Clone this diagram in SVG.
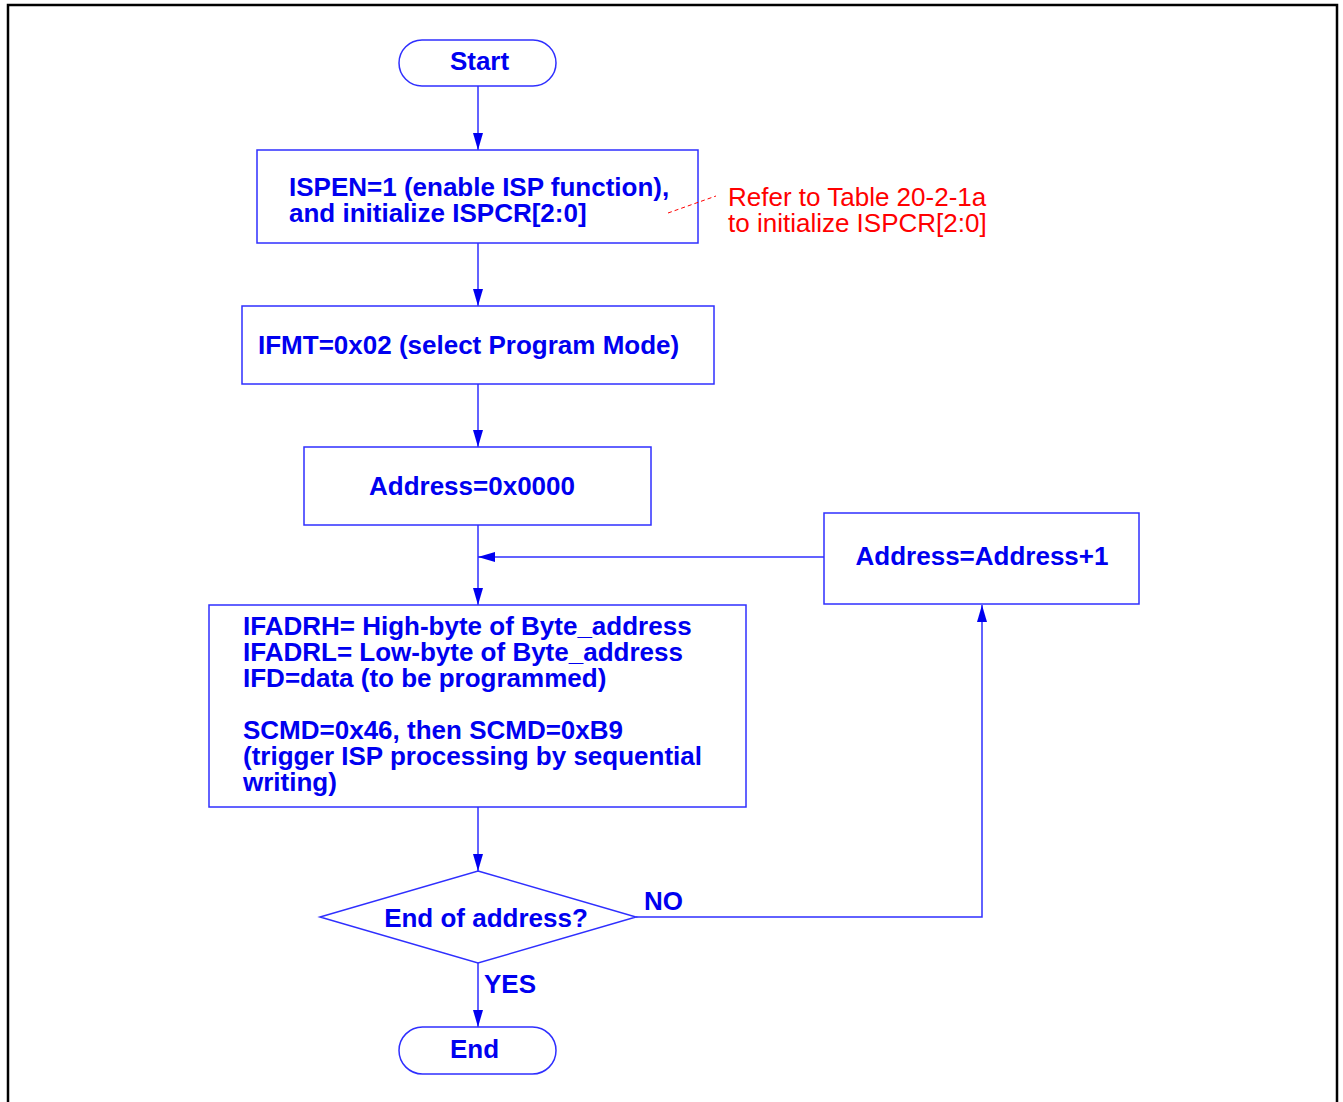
<svg xmlns="http://www.w3.org/2000/svg" width="1343" height="1102" viewBox="0 0 1343 1102">
<defs>
<style>
.shape{fill:#ffffff;stroke:#2f2fff;stroke-width:1.5}
.line{fill:none;stroke:#2f2fff;stroke-width:1.5}
.t{font-family:"Liberation Sans",Arial,sans-serif;font-size:26px;font-weight:bold;fill:#0000f0}
.c{text-anchor:middle}
.note{font-family:"Liberation Sans",Arial,sans-serif;font-size:26px;fill:#ff0000}
</style>
<marker id="arr" markerUnits="userSpaceOnUse" markerWidth="17" markerHeight="10" refX="17" refY="5" orient="auto">
<path d="M0,0 L17,5 L0,10 z" fill="#0000f0"/>
</marker>
</defs>
<rect width="1343" height="1102" fill="#ffffff"/>
<path d="M8,1102 V5 H1337 V1102" fill="none" stroke="#000000" stroke-width="2.5"/>

<g id="connectors">
<path class="line" d="M478,86 V150" marker-end="url(#arr)"/>
<path class="line" d="M478,243 V306" marker-end="url(#arr)"/>
<path class="line" d="M478,384 V447" marker-end="url(#arr)"/>
<path class="line" d="M478,525 V605" marker-end="url(#arr)"/>
<path class="line" d="M824,557 H478" marker-end="url(#arr)"/>
<path class="line" d="M478,807 V871" marker-end="url(#arr)"/>
<path class="line" d="M636,917 H982 V605" marker-end="url(#arr)"/>
<path class="line" d="M478,963 V1027" marker-end="url(#arr)"/>
<text class="t" x="644" y="910">NO</text>
<text class="t" x="484" y="993">YES</text>
</g>

<g id="start">
<rect class="shape" x="399" y="40" width="157" height="46" rx="23" ry="23"/>
<text class="t c" x="479.5" y="70">Start</text>
</g>

<g id="init">
<rect class="shape" x="257" y="150" width="441" height="93"/>
<text class="t" x="289" y="196">ISPEN=1 (enable ISP function),</text>
<text class="t" x="289" y="222">and initialize ISPCR[2:0]</text>
</g>

<g id="note">
<path d="M668,213 L716,196" fill="none" stroke="#ff0000" stroke-width="1" stroke-dasharray="4,3"/>
<text class="note" x="728" y="206">Refer to Table 20-2-1a</text>
<text class="note" x="728" y="232">to initialize ISPCR[2:0]</text>
</g>

<g id="ifmt">
<rect class="shape" x="242" y="306" width="472" height="78"/>
<text class="t" x="258" y="354">IFMT=0x02 (select Program Mode)</text>
</g>

<g id="addr0">
<rect class="shape" x="304" y="447" width="347" height="78"/>
<text class="t c" x="472" y="495">Address=0x0000</text>
</g>

<g id="program">
<rect class="shape" x="209" y="605" width="537" height="202"/>
<text class="t" x="243" y="635">IFADRH= High-byte of Byte_address</text>
<text class="t" x="243" y="661">IFADRL= Low-byte of Byte_address</text>
<text class="t" x="243" y="687">IFD=data (to be programmed)</text>
<text class="t" x="243" y="739">SCMD=0x46, then SCMD=0xB9</text>
<text class="t" x="243" y="765">(trigger ISP processing by sequential</text>
<text class="t" x="243" y="791">writing)</text>
</g>

<g id="decision">
<path class="shape" d="M478,871 L636,917 L478,963 L320,917 Z"/>
<text class="t c" x="486" y="927">End of address?</text>
</g>

<g id="increment">
<rect class="shape" x="824" y="513" width="315" height="91"/>
<text class="t c" x="982" y="565">Address=Address+1</text>
</g>

<g id="end">
<rect class="shape" x="399" y="1027" width="157" height="47" rx="23.5" ry="23.5"/>
<text class="t c" x="474.5" y="1058">End</text>
</g>
</svg>
